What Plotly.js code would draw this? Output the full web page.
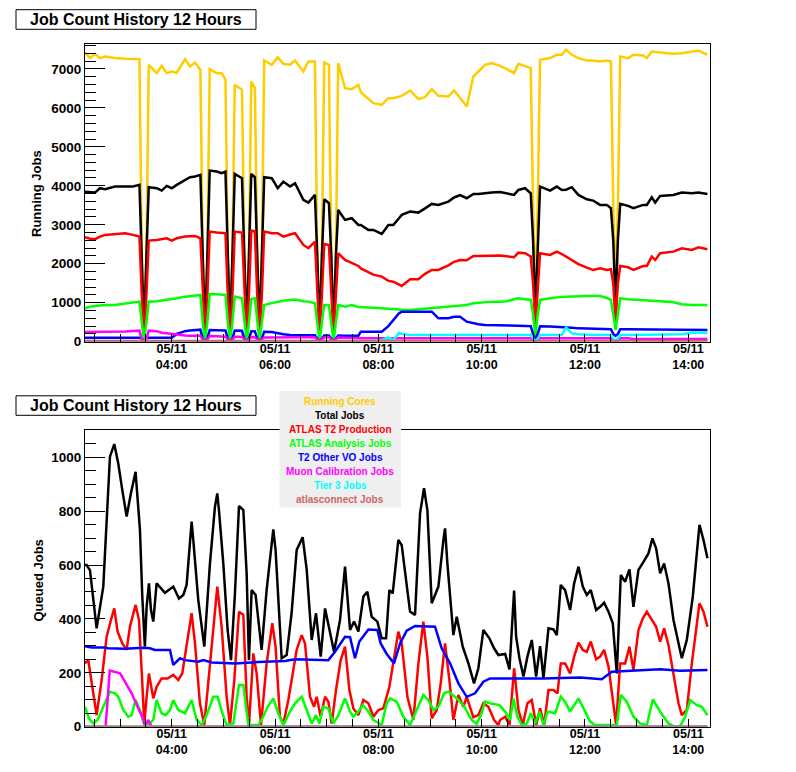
<!DOCTYPE html>
<html>
<head>
<meta charset="utf-8">
<script src="https://cdn.plot.ly/plotly-3.0.1.min.js"></script>
<style>
  body { margin: 0; background: #fff; }
  #chart { width: 796px; height: 772px; }
</style>
</head>
<body>
<div id="chart"></div>
<script>
// ---- running jobs, hours of 05/11 ----
var runT = [
  2.32, 2.42, 2.515, 2.61, 2.71, 2.90, 3.10, 3.25, 3.375, 3.42,
  3.465, 3.51, 3.555, 3.71, 3.806, 3.903, 4.0, 4.097, 4.258, 4.354,
  4.451, 4.555, 4.60, 4.645, 4.69, 4.735, 4.871, 4.968, 5.04, 5.085,
  5.13, 5.175, 5.22, 5.36, 5.405, 5.45, 5.495, 5.54, 5.61, 5.655,
  5.70, 5.745, 5.79, 5.936, 6.052, 6.161, 6.29, 6.387, 6.548, 6.645,
  6.772, 6.817, 6.862, 6.907, 6.952, 7.043, 7.088, 7.133, 7.178, 7.223,
  7.355, 7.485, 7.613, 7.66, 7.806, 7.903, 8.066, 8.194, 8.29, 8.40,
  8.453, 8.614, 8.774, 8.904, 9.034, 9.162, 9.355, 9.466, 9.582, 9.711,
  9.839, 9.936, 10.066, 10.195, 10.356, 10.486, 10.627, 10.711, 10.84, 10.95,
  10.995, 11.04, 11.085, 11.13, 11.324, 11.454, 11.551, 11.634, 11.744, 11.872,
  12.035, 12.157, 12.292, 12.422, 12.502, 12.547, 12.592, 12.637, 12.682, 12.834,
  12.937, 13.125, 13.197, 13.293, 13.36, 13.454, 13.711, 13.874, 14.068, 14.196,
  14.37
];
var runCores = [
  7420, 7280, 7385, 7276, 7318, 7276, 7260, 7250, 7250, 2300,
  300, 2300, 7104, 6890, 7078, 6890, 6932, 6900, 7250, 7060,
  7163, 6975, 2300, 300, 2300, 6993, 6890, 6890, 6719, 2300,
  300, 2300, 6590, 6462, 2300, 300, 2300, 6675, 6505, 2300,
  300, 2300, 7214, 7104, 7301, 7130, 7104, 7214, 6932, 7188,
  7188, 2300, 300, 2300, 7163, 7104, 2300, 300, 2300, 7146,
  6505, 6480, 6590, 6400, 6223, 6120, 6077, 6248, 6248, 6280,
  6308, 6445, 6223, 6274, 6480, 6308, 6291, 6445, 6248, 6034,
  6804, 6932, 7104, 7146, 7078, 6993, 6890, 7130, 7078, 7019,
  3500, 900, 3500, 7232, 7276, 7360, 7360, 7489, 7360, 7276,
  7214, 7214, 7188, 7214, 7188, 3500, 1200, 3500, 7318, 7276,
  7360, 7343, 7276, 7445, 7430, 7420, 7386, 7403, 7445, 7471,
  7360
];
var runTotal = [
  3850, 3830, 3826, 3938, 3912, 3980, 3980, 3980, 4023, 2200,
  200, 2200, 3964, 3938, 3877, 3997, 3938, 4023, 4151, 4220,
  4240, 4280, 2200, 200, 2200, 4390, 4365, 4322, 4365, 2200,
  200, 2200, 4305, 4195, 2200, 200, 2200, 4305, 4220, 2200,
  200, 2200, 4220, 4195, 3938, 4108, 3980, 4066, 3638, 3569,
  3766, 2200, 200, 2200, 3655, 3553, 2200, 200, 2200, 3381,
  3125, 3168, 2996, 2996, 2868, 2868, 2765, 2996, 2996, 3168,
  3253, 3338, 3312, 3420, 3535, 3510, 3594, 3700, 3760, 3681,
  3792, 3792, 3800, 3826, 3840, 3800, 3766, 3894, 3938, 3809,
  2600, 700, 2600, 3980, 3877, 3980, 3894, 3900, 3964, 3766,
  3655, 3621, 3510, 3510, 3425, 2600, 900, 2600, 3535, 3484,
  3425, 3510, 3510, 3707, 3569, 3741, 3766, 3826, 3809, 3826,
  3792
];
var runProd = [
  2680, 2640, 2630, 2697, 2740, 2770, 2783, 2740, 2697, 1200,
  100, 1200, 2594, 2612, 2630, 2654, 2594, 2654, 2697, 2700,
  2714, 2654, 1200, 100, 1200, 2824, 2800, 2790, 2783, 1200,
  100, 1200, 2824, 2800, 1200, 100, 1200, 2850, 2830, 1200,
  100, 1200, 2824, 2783, 2783, 2697, 2750, 2783, 2483, 2398,
  2568, 1200, 100, 1200, 2508, 2483, 1200, 100, 1200, 2270,
  2097, 2020, 1943, 1880, 1772, 1720, 1669, 1560, 1540, 1470,
  1430, 1602, 1602, 1740, 1841, 1841, 1960, 2050, 2097, 2088,
  2200, 2200, 2200, 2210, 2210, 2190, 2167, 2285, 2270, 2185,
  1500, 400, 1500, 2270, 2227, 2311, 2250, 2185, 2080, 1990,
  1900, 1841, 1884, 1841, 1858, 1500, 500, 1500, 1943, 1909,
  1841, 1943, 1943, 2182, 2097, 2270, 2311, 2398, 2353, 2420,
  2370
];
var runAnalysis = [
  860, 900, 918, 930, 942, 942, 985, 1000, 1028, 500,
  0, 500, 1028, 1040, 1054, 1070, 1090, 1114, 1156, 1170,
  1185, 1199, 500, 0, 500, 1225, 1215, 1205, 1199, 500,
  0, 500, 1156, 1114, 500, 0, 500, 1088, 1114, 500,
  0, 500, 942, 990, 1028, 1050, 1070, 1080, 1040, 1028,
  985, 500, 0, 500, 942, 942, 500, 0, 500, 942,
  900, 942, 890, 890, 880, 870, 850, 832, 832, 825,
  820, 815, 830, 845, 857, 870, 890, 900, 920, 942,
  985, 1000, 1020, 1028, 1028, 1040, 1090, 1114, 1090, 1071,
  700, 100, 700, 1071, 1114, 1140, 1150, 1156, 1165, 1173,
  1173, 1173, 1173, 1120, 1071, 700, 300, 700, 1114, 1088,
  1080, 1071, 1071, 1060, 1050, 1040, 1010, 960, 942, 942,
  942
];
var runOther = [
  103, 103, 103, 103, 103, 103, 103, 103, 103, 80,
  0, 80, 103, 103, 103, 103, 103, 200, 270, 290,
  300, 308, 80, 0, 80, 300, 295, 290, 290, 80,
  0, 80, 285, 280, 80, 0, 80, 270, 265, 80,
  0, 80, 257, 250, 216, 190, 171, 171, 168, 165,
  163, 80, 0, 80, 160, 160, 80, 0, 80, 158,
  155, 154, 154, 257, 257, 257, 257, 400, 560, 728,
  771, 771, 771, 771, 771, 600, 600, 640, 640, 514,
  471, 450, 428, 428, 428, 420, 415, 411, 405, 400,
  200, 50, 200, 395, 390, 385, 385, 380, 360, 342,
  335, 330, 328, 325, 322, 200, 150, 200, 320, 318,
  318, 318, 315, 312, 310, 308, 305, 303, 302, 300,
  300
];
var runMuon = [
  250, 250, 250, 245, 245, 250, 260, 275, 283, 60,
  0, 60, 283, 270, 230, 214, 200, 171, 160, 154,
  154, 154, 60, 0, 60, 145, 140, 135, 130, 60,
  0, 60, 128, 125, 60, 0, 60, 120, 115, 60,
  0, 60, 110, 108, 105, 110, 115, 115, 115, 115,
  115, 60, 0, 60, 115, 115, 60, 0, 60, 110,
  100, 90, 86, 86, 86, 86, 86, 86, 86, 86,
  86, 86, 86, 86, 86, 86, 86, 86, 86, 86,
  86, 86, 86, 86, 86, 86, 86, 86, 86, 86,
  40, 0, 40, 86, 86, 86, 86, 86, 86, 86,
  86, 86, 86, 86, 86, 40, 0, 40, 86, 86,
  70, 70, 70, 70, 70, 70, 70, 70, 70, 70,
  70
];
var runTier3 = [
  0, 0, 0, 0, 0, 0, 0, 0, 0, 0,
  0, 0, 0, 0, 0, 0, 0, 0, 0, 0,
  0, 0, 0, 0, 0, 0, 0, 0, 0, 0,
  0, 0, 0, 0, 0, 0, 0, 0, 0, 0,
  0, 0, 0, 0, 0, 0, 0, 0, 0, 0,
  0, 0, 0, 0, 0, 0, 0, 0, 0, 0,
  0, 0, 0, 0, 0, 30, 40, 110, 40, 231,
  200, 171, 171, 171, 171, 171, 171, 171, 171, 171,
  171, 171, 171, 171, 171, 171, 171, 171, 171, 171,
  80, 0, 80, 171, 171, 171, 171, 368, 214, 190,
  171, 171, 171, 171, 171, 80, 0, 80, 171, 171,
  171, 171, 171, 171, 171, 171, 171, 190, 231, 231,
  231
];
var runConnectT = [2.32, 14.37];
var runConnect = [20, 20];

// ---- queued jobs ----
var qTotalT = [
  2.32, 2.352, 2.417, 2.546, 2.675, 2.804, 2.888, 2.965, 3.043, 3.127,
  3.21, 3.30, 3.385, 3.43, 3.48, 3.514, 3.559, 3.598, 3.643, 3.707,
  3.869, 4.03, 4.14, 4.224, 4.288, 4.353, 4.385, 4.417, 4.514, 4.63,
  4.74, 4.837, 4.882, 4.914, 4.998, 5.082, 5.147, 5.224, 5.302, 5.386,
  5.45, 5.495, 5.547, 5.624, 5.74, 5.837, 5.92, 5.966, 6.01, 6.063,
  6.128, 6.225, 6.32, 6.419, 6.535, 6.613, 6.71, 6.793, 6.884, 6.968,
  7.064, 7.142, 7.258, 7.355, 7.452, 7.529, 7.613, 7.71, 7.787, 7.871,
  7.981, 8.065, 8.149, 8.213, 8.278, 8.387, 8.452, 8.613, 8.71, 8.807,
  8.884, 8.949, 9.033, 9.162, 9.259, 9.291, 9.336, 9.452, 9.517, 9.633,
  9.743, 9.852, 9.936, 10.033, 10.149, 10.24, 10.323, 10.454, 10.538, 10.583,
  10.628, 10.667, 10.731, 10.809, 10.886, 10.97, 11.054, 11.131, 11.196, 11.293,
  11.39, 11.454, 11.531, 11.615, 11.712, 11.79, 11.874, 11.957, 12.035, 12.112,
  12.216, 12.293, 12.37, 12.455, 12.538, 12.616, 12.693, 12.777, 12.861, 12.938,
  13.035, 13.132, 13.229, 13.306, 13.377, 13.455, 13.532, 13.616, 13.713, 13.874,
  13.971, 14.087, 14.216, 14.294, 14.371
];
var qTotal = [
  600, 600, 581, 365, 520, 1002, 1049, 977, 878, 780,
  866, 946, 730, 483, 297, 445, 532, 433, 390, 532,
  497, 520, 476, 489, 526, 680, 761, 693, 470, 297,
  606, 817, 866, 804, 606, 359, 247, 495, 819, 804,
  569, 247, 507, 489, 285, 507, 656, 732, 656, 483,
  254, 266, 421, 656, 703, 582, 322, 421, 260, 439,
  346, 278, 396, 594, 359, 390, 353, 483, 501, 408,
  390, 328, 328, 507, 495, 693, 674, 427, 415, 792,
  885, 804, 458, 520, 693, 736, 606, 340, 408, 297,
  235, 161, 217, 359, 328, 291, 266, 270, 213, 359,
  505, 334, 254, 186, 260, 322, 186, 299, 179, 365,
  361, 340, 526, 507, 433, 532, 594, 520, 489, 507,
  433, 445, 460, 427, 384, 198, 563, 538, 584, 445,
  582, 612, 643, 699, 662, 569, 606, 532, 396, 254,
  322, 483, 749, 693, 625
];
var qProdT = [
  2.32, 2.385, 2.481, 2.546, 2.643, 2.74, 2.823, 2.888, 2.952, 3.043,
  3.127, 3.191, 3.30, 3.366, 3.417, 3.469, 3.514, 3.559, 3.643, 3.707,
  3.804, 3.92, 4.03, 4.127, 4.204, 4.288, 4.385, 4.45, 4.546, 4.63,
  4.708, 4.805, 4.882, 4.966, 5.063, 5.127, 5.211, 5.302, 5.386, 5.45,
  5.495, 5.579, 5.644, 5.728, 5.837, 5.947, 6.01, 6.095, 6.16, 6.257,
  6.353, 6.419, 6.516, 6.58, 6.677, 6.755, 6.806, 6.884, 6.968, 7.032,
  7.097, 7.18, 7.271, 7.355, 7.439, 7.516, 7.613, 7.71, 7.807, 7.904,
  8.0, 8.097, 8.213, 8.29, 8.387, 8.452, 8.562, 8.678, 8.775, 8.871,
  8.949, 9.033, 9.13, 9.207, 9.291, 9.375, 9.452, 9.549, 9.646, 9.71,
  9.839, 9.936, 10.033, 10.13, 10.24, 10.323, 10.357, 10.454, 10.538, 10.628,
  10.712, 10.796, 10.886, 10.97, 11.054, 11.131, 11.209, 11.293, 11.39, 11.467,
  11.531, 11.615, 11.712, 11.79, 11.874, 11.957, 12.035, 12.112, 12.216, 12.293,
  12.37, 12.455, 12.519, 12.603, 12.68, 12.777, 12.861, 12.938, 13.035, 13.12,
  13.197, 13.294, 13.377, 13.455, 13.532, 13.616, 13.713, 13.81, 13.874, 13.971,
  14.068, 14.152, 14.216, 14.294, 14.371
];
var qProd = [
  235, 247, 124, 43, 173, 334, 396, 439, 353, 309,
  285, 371, 452, 396, 210, 12, 111, 198, 105, 148,
  179, 179, 192, 173, 198, 297, 421, 309, 87, 6,
  173, 359, 520, 371, 111, 6, 173, 427, 415, 111,
  6, 272, 198, 6, 235, 384, 297, 37, 10, 99,
  210, 285, 340, 309, 111, 74, 111, 37, 111, 93,
  12, 136, 247, 297, 136, 68, 43, 99, 87, 37,
  62, 68, 148, 235, 353, 309, 111, 25, 235, 390,
  260, 31, 62, 161, 309, 173, 25, 118, 74, 111,
  35, 43, 87, 74, 25, 6, 25, 37, 6, 217,
  62, 6, 87, 99, 6, 68, 6, 136, 136, 124,
  235, 235, 198, 260, 312, 285, 278, 316, 250, 260,
  285, 223, 136, 6, 235, 235, 297, 210, 359, 402,
  427, 396, 371, 316, 365, 303, 198, 87, 43, 62,
  235, 359, 458, 427, 371
];
var qAnaT = [
  2.32, 2.397, 2.481, 2.565, 2.675, 2.804, 2.90, 2.965, 3.062, 3.159,
  3.224, 3.30, 3.385, 3.469, 3.559, 3.643, 3.707, 3.804, 3.882, 3.966,
  4.03, 4.127, 4.256, 4.385, 4.482, 4.579, 4.676, 4.805, 4.889, 4.979,
  5.063, 5.192, 5.302, 5.386, 5.482, 5.676, 5.74, 5.857, 5.966, 6.063,
  6.16, 6.289, 6.387, 6.516, 6.613, 6.71, 6.793, 6.858, 6.935, 7.032,
  7.129, 7.226, 7.355, 7.452, 7.516, 7.613, 7.697, 7.787, 7.904, 8.065,
  8.162, 8.226, 8.355, 8.484, 8.613, 8.742, 8.871, 8.968, 9.065, 9.162,
  9.272, 9.355, 9.484, 9.646, 9.807, 9.904, 10.0, 10.065, 10.162, 10.343,
  10.454, 10.55, 10.615, 10.693, 10.777, 10.874, 10.951, 11.035, 11.119, 11.196,
  11.273, 11.422, 11.531, 11.615, 11.712, 11.874, 12.003, 12.1, 12.196, 12.551,
  12.616, 12.693, 12.81, 12.938, 13.067, 13.197, 13.313, 13.455, 13.616, 13.713,
  13.842, 13.939, 14.036, 14.165, 14.262, 14.371
];
var qAna = [
  74, 31, 12, 25, 74, 130, 124, 111, 62, 37,
  43, 99, 62, 6, 10, 25, 99, 50, 43, 62,
  99, 62, 50, 99, 25, 6, 43, 111, 111, 50,
  6, 12, 155, 155, 6, 6, 25, 74, 105, 50,
  6, 56, 87, 111, 62, 12, 43, 12, 74, 68,
  12, 43, 105, 56, 37, 56, 80, 62, 25, 6,
  87, 105, 93, 37, 6, 62, 118, 99, 62, 74,
  124, 130, 111, 80, 25, 10, 50, 93, 87, 80,
  56, 25, 105, 37, 6, 12, 50, 12, 56, 6,
  56, 50, 111, 93, 56, 105, 56, 19, 6, 6,
  6, 118, 93, 37, 12, 6, 101, 56, 12, 2,
  2, 37, 99, 80, 74, 43
];
var qOtherT = [
  2.32, 2.449, 2.675, 2.77, 3.094, 3.45, 3.578, 3.675, 3.966, 4.03,
  4.159, 4.256, 4.514, 4.611, 4.773, 5.224, 5.676, 6.192, 6.386, 7.032,
  7.161, 7.355, 7.452, 7.548, 7.632, 7.807, 7.981, 8.045, 8.162, 8.303,
  8.42, 8.549, 8.71, 9.097, 9.226, 9.388, 9.549, 9.71, 9.872, 10.033,
  10.162, 11.196, 11.906, 12.325, 12.519, 12.938, 13.455, 13.842, 14.371
];
var qOther = [
  299, 294, 294, 291, 289, 293, 291, 285, 285, 229,
  254, 247, 241, 247, 238, 235, 240, 244, 250, 247,
  278, 334, 332, 254, 316, 361, 359, 309, 270, 235,
  309, 356, 374, 371, 291, 235, 161, 111, 124, 167,
  179, 179, 183, 176, 204, 208, 213, 208, 210
];
var qMuonT = [2.32, 2.72, 2.80, 2.90, 3.00, 3.094, 3.224, 3.353, 3.43, 3.482, 3.546, 3.61, 14.37];
var qMuon = [0, 0, 208, 204, 198, 167, 124, 68, 37, 6, 25, 0, 0];
var qFlatT = [2.32, 14.37];
var qCores = [0, 0];
var qTier3 = [0, 0];
var qConnect = [0, 0];

var seriesNames = ['Running Cores', 'Total Jobs', 'ATLAS T2 Production', 'ATLAS Analysis Jobs',
                   'T2 Other VO Jobs', 'Muon Calibration Jobs', 'Tier 3 Jobs', 'atlasconnect Jobs'];
var seriesColors = ['#ffcc00', '#000000', '#ff0000', '#00ff00', '#0000ff', '#ff00ff', '#00ffff', '#cc6666'];
var hourTicks = [4, 6, 8, 10, 12, 14];
var hourLabels = ['05/11<br>04:00', '05/11<br>06:00', '05/11<br>08:00', '05/11<br>10:00', '05/11<br>12:00', '05/11<br>14:00'];

// ---- drawing ----
var W = 796, H = 772;
var FONT = '"Liberation Sans", Arial, Helvetica, sans-serif';
function fx(px) { return px / W; }
function fy(py) { return 1 - py / H; }

var runX = [runT, runT, runT, runT, runT, runT, runT, runConnectT];
var runY = [runCores, runTotal, runProd, runAnalysis, runOther, runMuon, runTier3, runConnect];
var qX = [qFlatT, qTotalT, qProdT, qAnaT, qOtherT, qMuonT, qFlatT, qFlatT];
var qY = [qCores, qTotal, qProd, qAna, qOther, qMuon, qTier3, qConnect];

var traces = [];
for (var i = 0; i < seriesNames.length; i++) {
  traces.push({x: runX[i], y: runY[i], name: seriesNames[i], xaxis: 'x', yaxis: 'y',
               mode: 'lines', line: {color: seriesColors[i], width: 2.5}, hoverinfo: 'skip'});
}
for (var j = 0; j < seriesNames.length; j++) {
  traces.push({x: qX[j], y: qY[j], name: seriesNames[j], xaxis: 'x2', yaxis: 'y2',
               mode: 'lines', line: {color: seriesColors[j], width: 2.5}, hoverinfo: 'skip'});
}

function xAxis(anchor) {
  return {
    domain: [fx(85), fx(710)], anchor: anchor, range: [2.321, 14.42],
    tickmode: 'array', tickvals: hourTicks, ticktext: hourLabels,
    ticks: 'inside', ticklen: 8, tickwidth: 1, tickcolor: '#000',
    minor: {tickmode: 'linear', tick0: 0, dtick: 0.5, ticks: 'inside', ticklen: 8, tickwidth: 1, tickcolor: '#000'},
    showline: true, mirror: true, linecolor: '#000', linewidth: 1,
    showgrid: false, zeroline: false, ticklabelstandoff: -5,
    tickfont: {family: FONT, size: 12.5, weight: 'bold', color: '#000'}
  };
}
function yAxis(anchor, dom, top, step, minorStep) {
  return {
    domain: dom, anchor: anchor, range: [0, top],
    tickmode: 'linear', tick0: 0, dtick: step,
    ticks: 'inside', ticklen: 20, tickwidth: 1, tickcolor: '#000',
    minor: {tickmode: 'linear', tick0: 0, dtick: minorStep, ticks: 'inside', ticklen: 11, tickwidth: 1, tickcolor: '#000'},
    showline: true, mirror: true, linecolor: '#000', linewidth: 1,
    showgrid: false, zeroline: false,
    tickfont: {family: FONT, size: 13.5, weight: 'bold', color: '#000'}
  };
}

var shapes = [
  {type: 'rect', xref: 'paper', yref: 'paper', x0: fx(16), x1: fx(256), y0: fy(29.3), y1: fy(9.7),
   line: {color: '#000', width: 1}, fillcolor: '#fff'},
  {type: 'rect', xref: 'paper', yref: 'paper', x0: fx(16), x1: fx(256), y0: fy(415.3), y1: fy(395.8),
   line: {color: '#000', width: 1}, fillcolor: '#fff'},
  {type: 'rect', xref: 'paper', yref: 'paper', x0: fx(279.5), x1: fx(401), y0: fy(507.5), y1: fy(391),
   line: {width: 0}, fillcolor: '#efefef', layer: 'above'}
];

var annotations = [
  {text: 'Job Count History 12 Hours', x: fx(136), y: fy(19.5), xref: 'paper', yref: 'paper',
   xanchor: 'center', yanchor: 'middle', showarrow: false,
   font: {family: FONT, size: 16, weight: 'bold', color: '#000'}},
  {text: 'Job Count History 12 Hours', x: fx(136), y: fy(405.6), xref: 'paper', yref: 'paper',
   xanchor: 'center', yanchor: 'middle', showarrow: false,
   font: {family: FONT, size: 16, weight: 'bold', color: '#000'}},
  {text: 'Running Jobs', x: fx(36), y: fy(194), xref: 'paper', yref: 'paper', textangle: -90,
   xanchor: 'center', yanchor: 'middle', showarrow: false,
   font: {family: FONT, size: 13, weight: 'bold', color: '#000'}},
  {text: 'Queued Jobs', x: fx(37.5), y: fy(581), xref: 'paper', yref: 'paper', textangle: -90,
   xanchor: 'center', yanchor: 'middle', showarrow: false,
   font: {family: FONT, size: 13, weight: 'bold', color: '#000'}}
];
for (var k = 0; k < seriesNames.length; k++) {
  annotations.push({text: seriesNames[k], x: fx(340), y: fy(401.7 + k * 14), xref: 'paper', yref: 'paper',
    xanchor: 'center', yanchor: 'middle', showarrow: false,
    font: {family: FONT, size: 10, weight: 'bold', color: seriesColors[k]}});
}

var layout = {
  width: W, height: H,
  margin: {l: 0, r: 0, t: 0, b: 0},
  paper_bgcolor: '#fff', plot_bgcolor: '#fff',
  font: {family: FONT, color: '#000'},
  showlegend: false,
  xaxis: xAxis('y'),
  yaxis: yAxis('x', [fy(341.7), fy(44.3)], 7630, 1000, 200),
  xaxis2: xAxis('y2'),
  yaxis2: yAxis('x2', [fy(726.7), fy(430.3)], 1100, 200, 50),
  shapes: shapes,
  annotations: annotations
};

Plotly.newPlot('chart', traces, layout, {displayModeBar: false, staticPlot: true});
</script>
</body>
</html>
